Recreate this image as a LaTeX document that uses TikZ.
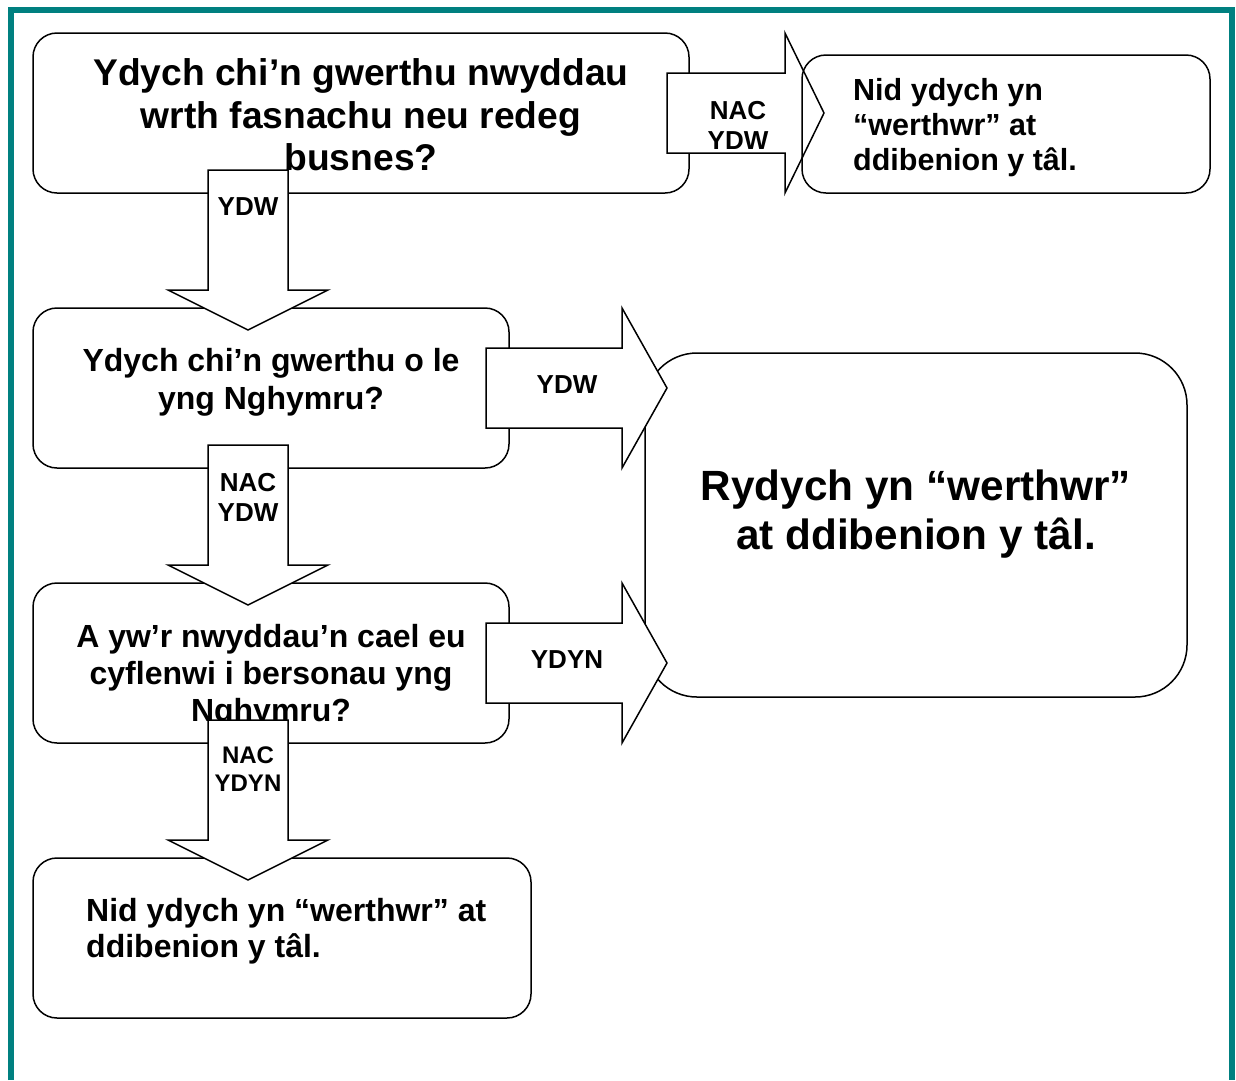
\documentclass[tikz,border=0pt]{standalone}
\usepackage{fontspec}
\setmainfont{Liberation Sans}
\definecolor{frameteal}{HTML}{008080}
\tikzset{
  box/.style={draw=black, line width=1.5pt, rounded corners=24pt, fill=white, inner sep=0pt},
  boxopen/.style={draw=black, line width=1.5pt, rounded corners=24pt, inner sep=0pt},
  blk/.style={draw=black, line width=1.5pt, fill=white, line join=miter},
  qtext/.style={inner sep=0pt, font=\bfseries\fontsize{31}{37}\selectfont, align=center},
  ltext/.style={inner sep=0pt, font=\bfseries\fontsize{26}{30}\selectfont, align=center},
}
\newcommand\dnblock[3]{% x centre, y top, y tip
  \draw[blk] (#1-40,#2) -- (#1+40,#2) -- (#1+40,#3-40) -- (#1+80,#3-40) -- (#1,#3)
     -- (#1-80,#3-40) -- (#1-40,#3-40) -- cycle;}
\newcommand\rtblock[5]{% y centre, x left, x head start, x tip, head half height
  \draw[blk] (#2,#1-40) -- (#3,#1-40) -- (#3,#1-#5) -- (#4,#1) -- (#3,#1+#5)
     -- (#3,#1+40) -- (#2,#1+40) -- cycle;}
\begin{document}
\begin{tikzpicture}[x=1pt,y=-1pt]
\useasboundingbox[fill=white] (0,0) rectangle (1236,1080);
% frame
\draw[frameteal, line width=6pt, line join=miter] (11,1080) -- (11,10) -- (1232,10) -- (1232,1080);

% question 1
\node[box, minimum width=656, minimum height=160] (b1) at (361,113) {};
\node[qtext, font=\bfseries\fontsize{37.2}{42.5}\selectfont] (t1) at (361,115)
  {Ydych chi’n gwerthu nwyddau\\wrth fasnachu neu redeg\\busnes?};

% big result box
\node[box, rounded corners=52pt, minimum width=542, minimum height=344] (big) at (916,525) {};
\node[qtext, font=\bfseries\fontsize{42.3}{49}\selectfont] (tbig) at (916,514)
  {Rydych yn “werthwr”\\at ddibenion y tâl.};

% question 2
\node[box, minimum width=476, minimum height=160] (b3) at (271,388) {};
\node[qtext, font=\bfseries\fontsize{32}{38}\selectfont] (t3) at (271,382)
  {Ydych chi’n gwerthu o le\\yng Nghymru?};

% question 3
\node[box, minimum width=476, minimum height=160] (b4) at (271,663) {};
\node[qtext, font=\bfseries\fontsize{32}{37}\selectfont] (t4) at (271,676)
  {A yw’r nwyddau’n cael eu\\cyflenwi i bersonau yng\\Nghymru?};

% result bottom
\node[box, minimum width=498, minimum height=160] (b5) at (282,938) {};
\node[qtext, align=left, anchor=west, font=\bfseries\fontsize{32}{36}\selectfont] (t5) at (86,931)
  {Nid ydych yn “werthwr” at\\ddibenion y tâl.};

% block arrows
\dnblock{248}{170}{330}
\node[ltext] (l1) at (248,207) {YDW};
\dnblock{248}{445}{605}
\node[ltext] (l2) at (248,497) {NAC\\YDW};
\dnblock{248}{720}{880}
\node[ltext, font=\bfseries\fontsize{24}{28}\selectfont] (l3) at (248,769) {NAC\\YDYN};

\rtblock{388}{486}{622}{667}{80}
\node[ltext] (l4) at (567,385) {YDW};
\rtblock{663}{486}{622}{667}{80}
\node[ltext] (l5) at (567,660) {YDYN};

\rtblock{113}{667}{785}{824}{80}
\node[ltext] (l6) at (738,125) {NAC\\YDW};

% result top right (outline only, drawn over the arrow)
\node[boxopen, minimum width=408, minimum height=138] (b2) at (1006,124) {};
\node[qtext, align=left, anchor=west, font=\bfseries\fontsize{30.5}{35}\selectfont] (t2) at (853,128)
  {Nid ydych yn\\“werthwr” at\\ddibenion y tâl.};
\end{tikzpicture}
\end{document}
